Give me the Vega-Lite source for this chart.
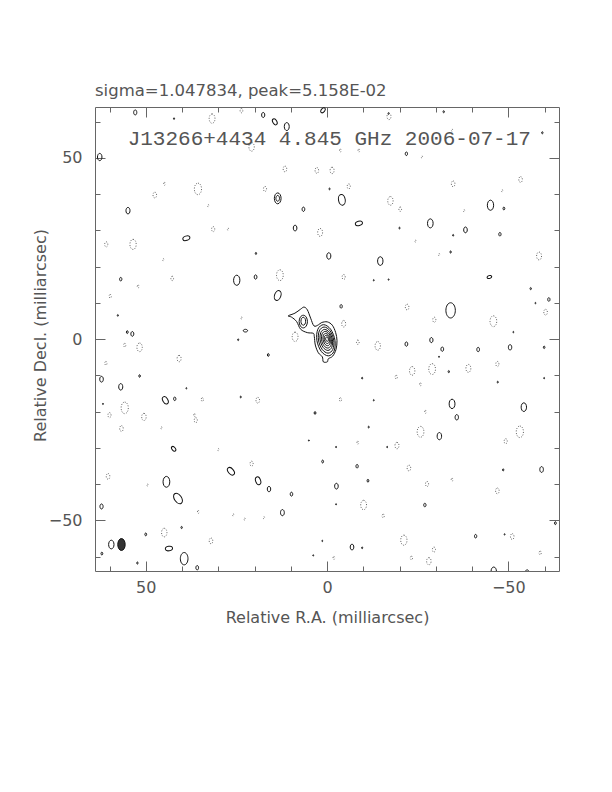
{
  "$schema": "https://vega.github.io/schema/vega-lite/v6.json",
  "width": 464,
  "height": 464,
  "autosize": {"type": "none"},
  "padding": {"left": 95, "top": 107, "right": 53, "bottom": 221},
  "background": "white",
  "config": {"view": {"stroke": null}},
  "title": {"text": "sigma=1.047834, peak=5.158E-02", "anchor": "start", "frame": "group", "font": "DejaVu Sans", "fontSize": 16.5, "fontWeight": "normal", "color": "#555", "offset": -6, "baseline": "alphabetic", "dx": 0},
  "datasets": {
    "core": [
      {"c": "o", "i": 1, "ra": 10.68, "dec": 6.39}, {"c": "o", "i": 2, "ra": 8.84, "dec": 7.13}, {"c": "o", "i": 3, "ra": 7.27, "dec": 8.24},
      {"c": "o", "i": 4, "ra": 6.35, "dec": 8.8}, {"c": "o", "i": 5, "ra": 5.43, "dec": 8.06}, {"c": "o", "i": 6, "ra": 4.51, "dec": 5.74},
      {"c": "o", "i": 7, "ra": 3.59, "dec": 3.61}, {"c": "o", "i": 8, "ra": 2.39, "dec": 3.89}, {"c": "o", "i": 9, "ra": 1.47, "dec": 4.54},
      {"c": "o", "i": 10, "ra": -0.09, "dec": 4.72}, {"c": "o", "i": 11, "ra": -1.47, "dec": 3.8}, {"c": "o", "i": 12, "ra": -2.39, "dec": 1.76},
      {"c": "o", "i": 13, "ra": -2.76, "dec": -0.46}, {"c": "o", "i": 14, "ra": -2.49, "dec": -2.87}, {"c": "o", "i": 15, "ra": -1.57, "dec": -4.72},
      {"c": "o", "i": 16, "ra": -0.37, "dec": -5.46}, {"c": "o", "i": 17, "ra": -0.09, "dec": -6.3}, {"c": "o", "i": 18, "ra": 1.01, "dec": -6.3},
      {"c": "o", "i": 19, "ra": 1.29, "dec": -4.91}, {"c": "o", "i": 20, "ra": 2.39, "dec": -3.8}, {"c": "o", "i": 21, "ra": 3.22, "dec": -1.67},
      {"c": "o", "i": 22, "ra": 3.5, "dec": 0.65}, {"c": "o", "i": 23, "ra": 3.78, "dec": 1.57}, {"c": "o", "i": 24, "ra": 5.43, "dec": 1.76},
      {"c": "o", "i": 25, "ra": 7.27, "dec": 2.69}, {"c": "o", "i": 26, "ra": 8.38, "dec": 4.81}, {"c": "o", "i": 27, "ra": 9.76, "dec": 6.02},
      {"c": "m2", "i": 1, "ra": 2.8, "dec": -0.35}, {"c": "m2", "i": 2, "ra": 2.53, "dec": 2.69}, {"c": "m2", "i": 3, "ra": 0.95, "dec": 3.95}, {"c": "m2", "i": 4, "ra": -1.01, "dec": 2.69},
      {"c": "m2", "i": 5, "ra": -2.2, "dec": -0.35}, {"c": "m2", "i": 6, "ra": -1.93, "dec": -3.39}, {"c": "m2", "i": 7, "ra": -0.35, "dec": -4.65}, {"c": "m2", "i": 8, "ra": 1.61, "dec": -3.39},
      {"c": "m3", "i": 1, "ra": 2.35, "dec": -0.3}, {"c": "m3", "i": 2, "ra": 2.12, "dec": 2.25}, {"c": "m3", "i": 3, "ra": 0.79, "dec": 3.3}, {"c": "m3", "i": 4, "ra": -0.85, "dec": 2.25},
      {"c": "m3", "i": 5, "ra": -1.85, "dec": -0.3}, {"c": "m3", "i": 6, "ra": -1.62, "dec": -2.85}, {"c": "m3", "i": 7, "ra": -0.29, "dec": -3.9}, {"c": "m3", "i": 8, "ra": 1.35, "dec": -2.85},
      {"c": "m4", "i": 1, "ra": 1.9, "dec": -0.25}, {"c": "m4", "i": 2, "ra": 1.71, "dec": 1.8}, {"c": "m4", "i": 3, "ra": 0.64, "dec": 2.65}, {"c": "m4", "i": 4, "ra": -0.69, "dec": 1.8},
      {"c": "m4", "i": 5, "ra": -1.5, "dec": -0.25}, {"c": "m4", "i": 6, "ra": -1.31, "dec": -2.3}, {"c": "m4", "i": 7, "ra": -0.24, "dec": -3.15}, {"c": "m4", "i": 8, "ra": 1.09, "dec": -2.3},
      {"c": "m5", "i": 1, "ra": 1.5, "dec": -0.2}, {"c": "m5", "i": 2, "ra": 1.35, "dec": 1.43}, {"c": "m5", "i": 3, "ra": 0.5, "dec": 2.1}, {"c": "m5", "i": 4, "ra": -0.56, "dec": 1.43},
      {"c": "m5", "i": 5, "ra": -1.2, "dec": -0.2}, {"c": "m5", "i": 6, "ra": -1.05, "dec": -1.83}, {"c": "m5", "i": 7, "ra": -0.2, "dec": -2.5}, {"c": "m5", "i": 8, "ra": 0.86, "dec": -1.83},
      {"c": "m6", "i": 1, "ra": 1.1, "dec": -0.15}, {"c": "m6", "i": 2, "ra": 0.99, "dec": 1.05}, {"c": "m6", "i": 3, "ra": 0.36, "dec": 1.55}, {"c": "m6", "i": 4, "ra": -0.43, "dec": 1.05},
      {"c": "m6", "i": 5, "ra": -0.9, "dec": -0.15}, {"c": "m6", "i": 6, "ra": -0.79, "dec": -1.35}, {"c": "m6", "i": 7, "ra": -0.16, "dec": -1.85}, {"c": "m6", "i": 8, "ra": 0.63, "dec": -1.35},
      {"c": "m7", "i": 1, "ra": 0.75, "dec": -0.1}, {"c": "m7", "i": 2, "ra": 0.67, "dec": 0.71}, {"c": "m7", "i": 3, "ra": 0.22, "dec": 1.05}, {"c": "m7", "i": 4, "ra": -0.32, "dec": 0.71},
      {"c": "m7", "i": 5, "ra": -0.65, "dec": -0.1}, {"c": "m7", "i": 6, "ra": -0.57, "dec": -0.91}, {"c": "m7", "i": 7, "ra": -0.12, "dec": -1.25}, {"c": "m7", "i": 8, "ra": 0.42, "dec": -0.91},
      {"c": "m8", "i": 1, "ra": 0.38, "dec": -0.05}, {"c": "m8", "i": 2, "ra": 0.33, "dec": 0.37}, {"c": "m8", "i": 3, "ra": 0.09, "dec": 0.55}, {"c": "m8", "i": 4, "ra": -0.21, "dec": 0.37},
      {"c": "m8", "i": 5, "ra": -0.38, "dec": -0.05}, {"c": "m8", "i": 6, "ra": -0.33, "dec": -0.47}, {"c": "m8", "i": 7, "ra": -0.09, "dec": -0.65}, {"c": "m8", "i": 8, "ra": 0.21, "dec": -0.47},
      {"c": "la", "i": 1, "ra": 7.69, "dec": 4.81}, {"c": "la", "i": 2, "ra": 7.35, "dec": 6.05}, {"c": "la", "i": 3, "ra": 6.54, "dec": 6.56}, {"c": "la", "i": 4, "ra": 5.73, "dec": 6.05},
      {"c": "la", "i": 5, "ra": 5.39, "dec": 4.81}, {"c": "la", "i": 6, "ra": 5.73, "dec": 3.57}, {"c": "la", "i": 7, "ra": 6.54, "dec": 3.06}, {"c": "la", "i": 8, "ra": 7.35, "dec": 3.57},
      {"c": "lb", "i": 1, "ra": 7.19, "dec": 4.9}, {"c": "lb", "i": 2, "ra": 7.0, "dec": 5.68}, {"c": "lb", "i": 3, "ra": 6.54, "dec": 6.0}, {"c": "lb", "i": 4, "ra": 6.08, "dec": 5.68},
      {"c": "lb", "i": 5, "ra": 5.89, "dec": 4.9}, {"c": "lb", "i": 6, "ra": 6.08, "dec": 4.12}, {"c": "lb", "i": 7, "ra": 6.54, "dec": 3.8}, {"c": "lb", "i": 8, "ra": 7.0, "dec": 4.12}
    ],
    "pos": [
      {"ra": 52.9, "dec": 62.5, "h": 1.4}, {"ra": 17.6, "dec": 61.8, "h": 1.4}, {"ra": 14.4, "dec": 59.9, "h": 1.8, "pa": -30},
      {"ra": 11.1, "dec": 58.6, "h": 2.2}, {"ra": 62.7, "dec": 50.2, "h": 2.0}, {"ra": 13.6, "dec": 38.8, "h": 3.0},
      {"ra": 13.6, "dec": 38.8, "h": 1.6}, {"ra": 54.9, "dec": 35.4, "h": 1.8}, {"ra": 6.5, "dec": 35.8, "h": 1.2},
      {"ra": 8.8, "dec": 30.6, "h": 1.6}, {"ra": 38.8, "dec": 27.8, "h": 2.0, "pa": 70}, {"ra": 19.6, "dec": 23.6, "h": 0.6},
      {"ra": -0.5, "dec": 22.9, "h": 1.8}, {"ra": 1.1, "dec": 63.1, "h": 1.6, "pa": 40}, {"ra": 42.2, "dec": 60.8, "h": 0.5},
      {"ra": -17, "dec": 62.2, "h": 0.5}, {"ra": -32.2, "dec": 62.7, "h": 0.6}, {"ra": -59.4, "dec": 56.9, "h": 0.6},
      {"ra": -21.9, "dec": 51.1, "h": 1.0}, {"ra": -4.1, "dec": 38.4, "h": 3.0, "pa": -10}, {"ra": -45.1, "dec": 36.9, "h": 2.8},
      {"ra": -48.8, "dec": 36.0, "h": 0.8}, {"ra": -8.8, "dec": 31.9, "h": 2.0, "pa": 75}, {"ra": -28.5, "dec": 31.9, "h": 2.5},
      {"ra": -38.2, "dec": 30.1, "h": 1.6}, {"ra": -34.8, "dec": 28.6, "h": 0.5}, {"ra": -47.7, "dec": 28.9, "h": 1.0},
      {"ra": -14.7, "dec": 21.5, "h": 2.4}, {"ra": -34.1, "dec": 24.0, "h": 0.6}, {"ra": -0.7, "dec": 41.4, "h": 0.5},
      {"ra": -20.0, "dec": 30.6, "h": 0.5}, {"ra": 56.9, "dec": 16.5, "h": 1.0}, {"ra": 24.9, "dec": 16.2, "h": 2.8},
      {"ra": 19.7, "dec": 17.1, "h": 1.2}, {"ra": 13.6, "dec": 12.0, "h": 2.8, "pa": 20}, {"ra": 57.7, "dec": 6.5, "h": 0.5},
      {"ra": 55.1, "dec": 1.9, "h": 0.8}, {"ra": 53.7, "dec": 1.4, "h": 1.3}, {"ra": 22.5, "dec": 2.3, "h": 1.2, "pa": 90},
      {"ra": 24.5, "dec": -0.2, "h": 0.5}, {"ra": 16.2, "dec": -4.4, "h": 0.8}, {"ra": 51.7, "dec": -10.2, "h": 0.7},
      {"ra": 62.2, "dec": -11.1, "h": 1.6}, {"ra": 56.9, "dec": -13.2, "h": 1.8}, {"ra": 38.8, "dec": -13.6, "h": 0.4},
      {"ra": 44.6, "dec": -16.9, "h": 2.2, "pa": -30}, {"ra": 42.0, "dec": -16.5, "h": 1.0}, {"ra": 23.8, "dec": -16.0, "h": 0.5},
      {"ra": 3.3, "dec": -20.4, "h": 0.8}, {"ra": 61.8, "dec": -17.9, "h": 0.4}, {"ra": -44.8, "dec": 17.1, "h": 1.3, "pa": 70},
      {"ra": -56.2, "dec": 13.9, "h": 0.6}, {"ra": -61.2, "dec": 10.9, "h": 1.0}, {"ra": -3.9, "dec": 9.0, "h": 1.0},
      {"ra": -34.1, "dec": 7.9, "h": 4.2}, {"ra": -21.9, "dec": -1.4, "h": 1.2}, {"ra": -28.8, "dec": -0.3, "h": 1.4},
      {"ra": -31.8, "dec": -2.8, "h": 1.2}, {"ra": -41.7, "dec": -2.9, "h": 1.2}, {"ra": -50.5, "dec": -2.3, "h": 1.5},
      {"ra": -59.9, "dec": -2.3, "h": 0.7}, {"ra": -30.9, "dec": -4.9, "h": 0.4}, {"ra": -33.6, "dec": -9.0, "h": 0.6},
      {"ra": -9.7, "dec": -10.8, "h": 0.5}, {"ra": -47.1, "dec": -11.9, "h": 0.5}, {"ra": -34.5, "dec": -17.9, "h": 2.6},
      {"ra": -35.8, "dec": -21.6, "h": 1.5}, {"ra": -54.3, "dec": -18.8, "h": 2.4}, {"ra": -51.4, "dec": 1.9, "h": 0.4},
      {"ra": -59.9, "dec": -10.8, "h": 0.4}, {"ra": -57.5, "dec": 9.9, "h": 0.4}, {"ra": -12.9, "dec": 16.2, "h": 0.4},
      {"ra": -17.0, "dec": 16.4, "h": 0.4}, {"ra": -12.9, "dec": -16.9, "h": 0.4}, {"ra": 42.3, "dec": -30.3, "h": 1.5, "pa": -40},
      {"ra": 1.2, "dec": -33.8, "h": 0.8}, {"ra": 26.5, "dec": -36.5, "h": 2.4, "pa": -40}, {"ra": 19.0, "dec": -39.1, "h": 2.2, "pa": -20},
      {"ra": 44.3, "dec": -39.4, "h": 3.0}, {"ra": 16.0, "dec": -41.4, "h": 1.5}, {"ra": 9.8, "dec": -42.8, "h": 1.1},
      {"ra": 41.1, "dec": -44.0, "h": 3.2, "pa": -35}, {"ra": 62.2, "dec": -46.2, "h": 1.4}, {"ra": 12.3, "dec": -47.9, "h": 1.7},
      {"ra": 40.1, "dec": -52.0, "h": 0.6}, {"ra": 50.0, "dec": -53.9, "h": 0.8}, {"ra": 59.5, "dec": -56.7, "h": 2.4},
      {"ra": 62.1, "dec": -59.2, "h": 0.8}, {"ra": 43.6, "dec": -57.8, "h": 2.0, "pa": 80}, {"ra": 39.4, "dec": -60.6, "h": 3.4},
      {"ra": 52.3, "dec": -61.8, "h": 0.6}, {"ra": 35.8, "dec": -63.1, "h": 1.2}, {"ra": 1.3, "dec": -55.7, "h": 0.4},
      {"ra": 3.8, "dec": -59.7, "h": 0.4}, {"ra": 5.0, "dec": -28.0, "h": 0.4}, {"ra": -11.5, "dec": -24.3, "h": 0.5},
      {"ra": -31.0, "dec": -26.8, "h": 2.0}, {"ra": -8.3, "dec": -35.1, "h": 1.0}, {"ra": -48.6, "dec": -36.1, "h": 0.6},
      {"ra": -59.2, "dec": -36.0, "h": 1.6}, {"ra": -11.3, "dec": -39.1, "h": 0.8}, {"ra": -2.6, "dec": -40.6, "h": 1.6},
      {"ra": -27.0, "dec": -45.8, "h": 1.0}, {"ra": -41.0, "dec": -54.4, "h": 1.0}, {"ra": -6.9, "dec": -57.4, "h": 1.6},
      {"ra": -9.7, "dec": -57.6, "h": 0.5}, {"ra": -46.0, "dec": -64.1, "h": 2.4}, {"ra": -55.2, "dec": -64.4, "h": 1.5},
      {"ra": -63.0, "dec": -50.8, "h": 0.8}, {"ra": -2.5, "dec": -29.8, "h": 0.4}, {"ra": -2.5, "dec": -45.6, "h": 0.4},
      {"ra": -16.6, "dec": -29.8, "h": 0.4}, {"ra": -49.0, "dec": -53.9, "h": 0.4}
    ],
    "neg": [
      {"ra": 31.7, "dec": 60.8, "h": 2.6}, {"ra": 23.6, "dec": 63.0, "h": 1.2}, {"ra": 20.8, "dec": 53.0, "h": 2.4},
      {"ra": 11.6, "dec": 46.9, "h": 1.6}, {"ra": 2.8, "dec": 46.5, "h": 1.6}, {"ra": 44.8, "dec": 42.8, "h": 0.8},
      {"ra": 47.5, "dec": 39.7, "h": 1.6}, {"ra": 35.6, "dec": 41.4, "h": 3.2}, {"ra": 17.1, "dec": 41.4, "h": 1.4},
      {"ra": 32.8, "dec": 36.8, "h": 0.6}, {"ra": 31.4, "dec": 30.3, "h": 1.4}, {"ra": 27.3, "dec": 30.3, "h": 0.6},
      {"ra": 1.9, "dec": 29.4, "h": 2.2}, {"ra": 60.9, "dec": 26.1, "h": 1.4}, {"ra": 53.5, "dec": 26.1, "h": 2.8},
      {"ra": 45.2, "dec": 21.9, "h": 0.6}, {"ra": -17.1, "dec": 61.4, "h": 1.8}, {"ra": -3.7, "dec": 52.0, "h": 0.8},
      {"ra": -8.8, "dec": 52.0, "h": 0.8}, {"ra": -26.2, "dec": 50.2, "h": 0.6}, {"ra": -34.5, "dec": 57.6, "h": 0.6},
      {"ra": -1.4, "dec": 46.5, "h": 1.8}, {"ra": -6.0, "dec": 42.1, "h": 1.4}, {"ra": -17.5, "dec": 38.1, "h": 2.4},
      {"ra": -20.2, "dec": 35.8, "h": 1.2}, {"ra": -34.8, "dec": 42.8, "h": 1.6}, {"ra": -48.3, "dec": 40.9, "h": 0.6},
      {"ra": -53.4, "dec": 44.0, "h": 1.6}, {"ra": -37.8, "dec": 35.4, "h": 0.6}, {"ra": -24.4, "dec": 27.0, "h": 0.6},
      {"ra": -30.9, "dec": 23.3, "h": 0.6}, {"ra": -58.5, "dec": 22.9, "h": 2.2}, {"ra": 42.7, "dec": 16.7, "h": 1.2},
      {"ra": 52.1, "dec": 14.5, "h": 0.8}, {"ra": 59.8, "dec": 11.8, "h": 1.0}, {"ra": 13.0, "dec": 17.6, "h": 3.0},
      {"ra": 23.6, "dec": 5.8, "h": 0.6}, {"ra": 55.8, "dec": -1.7, "h": 1.0}, {"ra": 51.7, "dec": -2.3, "h": 2.4},
      {"ra": 8.8, "dec": 0.6, "h": 2.6}, {"ra": 40.8, "dec": -5.4, "h": 1.8}, {"ra": 61.0, "dec": -6.7, "h": 1.0},
      {"ra": 34.4, "dec": -16.7, "h": 1.0}, {"ra": 19.1, "dec": -16.9, "h": 1.6}, {"ra": 55.8, "dec": -19.0, "h": 3.2},
      {"ra": 50.5, "dec": -21.5, "h": 2.0}, {"ra": 60.0, "dec": -21.0, "h": 1.4}, {"ra": 36.5, "dec": -21.0, "h": 0.8},
      {"ra": -4.6, "dec": 17.1, "h": 1.4}, {"ra": -22.1, "dec": 8.8, "h": 1.6}, {"ra": -29.6, "dec": 5.3, "h": 1.4},
      {"ra": -45.9, "dec": 4.9, "h": 3.0}, {"ra": -60.3, "dec": 7.4, "h": 1.6}, {"ra": -4.6, "dec": 4.2, "h": 1.8},
      {"ra": -8.5, "dec": -0.9, "h": 1.2}, {"ra": -14.0, "dec": -1.9, "h": 2.4}, {"ra": -23.5, "dec": -8.8, "h": 2.4},
      {"ra": -29.0, "dec": -8.3, "h": 3.0}, {"ra": -39.0, "dec": -8.1, "h": 2.2}, {"ra": -47.0, "dec": -6.9, "h": 1.4},
      {"ra": -19.1, "dec": -10.5, "h": 1.0}, {"ra": -25.8, "dec": -12.5, "h": 0.8}, {"ra": -3.7, "dec": -16.7, "h": 1.0},
      {"ra": -27.2, "dec": -20.1, "h": 0.8}, {"ra": 56.7, "dec": -24.7, "h": 1.6}, {"ra": 45.7, "dec": -24.5, "h": 0.6},
      {"ra": 36.2, "dec": -22.4, "h": 1.4}, {"ra": 30.0, "dec": -30.5, "h": 0.6}, {"ra": 20.8, "dec": -34.4, "h": 1.4},
      {"ra": 60.4, "dec": -37.9, "h": 1.6}, {"ra": 49.5, "dec": -40.3, "h": 0.6}, {"ra": 35.5, "dec": -47.7, "h": 0.8},
      {"ra": 22.7, "dec": -49.7, "h": 0.6}, {"ra": 17.4, "dec": -49.3, "h": 0.6}, {"ra": 25.9, "dec": -48.5, "h": 0.6},
      {"ra": 44.9, "dec": -53.4, "h": 2.4}, {"ra": 32.0, "dec": -55.7, "h": 1.6}, {"ra": -25.8, "dec": -25.6, "h": 3.0},
      {"ra": -53.2, "dec": -25.6, "h": 3.2}, {"ra": -49.3, "dec": -28.2, "h": 1.4}, {"ra": -8.5, "dec": -28.6, "h": 0.8},
      {"ra": -19.3, "dec": -29.4, "h": 1.8}, {"ra": -22.6, "dec": -35.6, "h": 1.6}, {"ra": -27.6, "dec": -40.0, "h": 1.4},
      {"ra": -34.5, "dec": -38.8, "h": 0.8}, {"ra": -47.0, "dec": -41.9, "h": 1.6}, {"ra": -10.1, "dec": -45.8, "h": 2.6},
      {"ra": -15.5, "dec": -48.8, "h": 1.0}, {"ra": -21.2, "dec": -55.5, "h": 2.8}, {"ra": -29.5, "dec": -58.1, "h": 1.4},
      {"ra": -28.1, "dec": -61.3, "h": 2.0}, {"ra": -23.3, "dec": -60.4, "h": 1.0}, {"ra": -51.1, "dec": -54.5, "h": 1.6},
      {"ra": -58.8, "dec": -59.0, "h": 1.0}, {"ra": -1.9, "dec": -60.4, "h": 0.8}
    ],
    "beam": [{"ra": 56.7, "dec": -56.7, "h": 3.3}],
    "label": [{"ra": 55.0, "dec": 55.2, "text": "J13266+4434 4.845 GHz 2006-07-17"}]
  },
  "layer": [
    {
      "data": {"name": "core"},
      "mark": {"type": "line", "interpolate": "cardinal-closed", "stroke": "#111", "strokeWidth": 1},
      "encoding": {
        "x": {"field": "ra", "type": "quantitative", "scale": {"domain": [-64, 64], "reverse": true, "nice": false, "zero": false},
          "axis": {"orient": "bottom", "values": [-60, -50, -40, -30, -20, -10, 0, 10, 20, 30, 40, 50, 60], "grid": false,
            "tickSize": {"condition": {"test": "datum.value % 50 === 0", "value": -10}, "value": -5},
            "tickColor": "#666", "domainColor": "#666", "labelExpr": "datum.value % 50 === 0 ? datum.label : ''",
            "labelFont": "DejaVu Sans", "labelFontSize": 16, "labelColor": "#555", "labelPadding": 18, "labelFlush": false, "labelOverlap": false,
            "title": "Relative R.A. (milliarcsec)", "titleFont": "DejaVu Sans", "titleFontSize": 16, "titleFontWeight": "normal", "titleColor": "#555",
            "titleX": 232, "titleY": 46, "titleBaseline": "middle", "titleAlign": "center"}},
        "y": {"field": "dec", "type": "quantitative", "scale": {"domain": [-64, 64], "nice": false, "zero": false},
          "axis": {"orient": "left", "values": [-60, -50, -40, -30, -20, -10, 0, 10, 20, 30, 40, 50, 60], "grid": false,
            "tickSize": {"condition": {"test": "datum.value % 50 === 0", "value": -10}, "value": -5},
            "tickColor": "#666", "domainColor": "#666", "labelExpr": "datum.value % 50 === 0 ? datum.label : ''",
            "labelFont": "DejaVu Sans", "labelFontSize": 16, "labelColor": "#555", "labelPadding": 23, "labelFlush": false, "labelOverlap": false,
            "title": "Relative Decl. (milliarcsec)", "titleFont": "DejaVu Sans", "titleFontSize": 16, "titleFontWeight": "normal", "titleColor": "#555",
            "titleX": -55, "titleY": 228, "titleBaseline": "middle", "titleAlign": "center", "titleAngle": -90}},
        "detail": {"field": "c"},
        "order": {"field": "i"}
      }
    },
    {
      "data": {"name": "pos"},
      "mark": {"type": "point", "shape": "M0,-1A0.62,1,0,1,1,0,1A0.62,1,0,1,1,0,-1Z", "filled": false, "stroke": "#111", "strokeWidth": 1, "opacity": 1, "clip": true},
      "encoding": {
        "x": {"field": "ra", "type": "quantitative", "scale": {"domain": [-64, 64], "reverse": true, "nice": false, "zero": false},
          "axis": {"orient": "top", "values": [-60, -50, -40, -30, -20, -10, 0, 10, 20, 30, 40, 50, 60], "grid": false, "labels": false, "title": null,
            "tickSize": {"condition": {"test": "datum.value % 50 === 0", "value": -10}, "value": -5}, "tickColor": "#666", "domainColor": "#666"}},
        "y": {"field": "dec", "type": "quantitative", "scale": {"domain": [-64, 64], "nice": false, "zero": false},
          "axis": {"orient": "right", "values": [-60, -50, -40, -30, -20, -10, 0, 10, 20, 30, 40, 50, 60], "grid": false, "labels": false, "title": null,
            "tickSize": {"condition": {"test": "datum.value % 50 === 0", "value": -10}, "value": -5}, "tickColor": "#666", "domainColor": "#666"}},
        "size": {"field": "h", "type": "quantitative", "scale": {"type": "pow", "exponent": 2, "domain": [0, 4], "range": [0, 210]}, "legend": null},
        "angle": {"field": "pa", "type": "quantitative", "scale": null}
      }
    },
    {
      "data": {"name": "neg"},
      "mark": {"type": "point", "shape": "M0,-1A0.62,1,0,1,1,0,1A0.62,1,0,1,1,0,-1Z", "filled": false, "stroke": "#666", "strokeWidth": 1, "strokeDash": [1, 1.5], "opacity": 1, "clip": true},
      "encoding": {
        "x": {"field": "ra", "type": "quantitative", "axis": null},
        "y": {"field": "dec", "type": "quantitative", "axis": null},
        "size": {"field": "h", "type": "quantitative", "scale": {"type": "pow", "exponent": 2, "domain": [0, 4], "range": [0, 210]}, "legend": null}
      }
    },
    {
      "data": {"name": "beam"},
      "mark": {"type": "point", "shape": "M0,-1A0.62,1,0,1,1,0,1A0.62,1,0,1,1,0,-1Z", "filled": true, "fill": "#333", "stroke": "#111", "strokeWidth": 1, "opacity": 1},
      "encoding": {
        "x": {"field": "ra", "type": "quantitative", "axis": null},
        "y": {"field": "dec", "type": "quantitative", "axis": null},
        "size": {"field": "h", "type": "quantitative", "scale": {"type": "pow", "exponent": 2, "domain": [0, 4], "range": [0, 210]}, "legend": null}
      }
    },
    {
      "data": {"name": "label"},
      "mark": {"type": "text", "font": "Liberation Mono", "fontSize": 21, "color": "#555", "align": "left", "baseline": "middle"},
      "encoding": {
        "x": {"field": "ra", "type": "quantitative", "axis": null},
        "y": {"field": "dec", "type": "quantitative", "axis": null},
        "text": {"field": "text"}
      }
    }
  ],
  "resolve": {"axis": {"x": "independent", "y": "independent"}}
}
